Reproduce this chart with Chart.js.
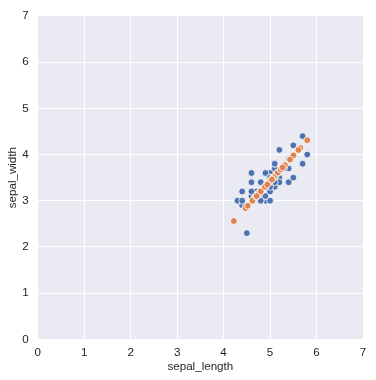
<!DOCTYPE html>
<html lang="en">
  <head>
    <meta charset="UTF-8" />
    <title>sepal scatter</title>
    <script src="https://cdn.jsdelivr.net/npm/chart.js@4.4.1/dist/chart.umd.min.js"></script>
    <style>
      html, body { margin: 0; padding: 0; background: #ffffff; }
      #wrap { width: 376px; height: 380px; }
    </style>
  </head>
  <body>
    <div id="wrap"><canvas id="myChart" width="376" height="380"></canvas></div>

    <script>
      // setosa measurements
      var sepalLength = [5.1, 4.9, 4.7, 4.6, 5.0, 5.4, 4.6, 5.0, 4.4, 4.9, 5.4, 4.8, 4.8, 4.3, 5.8, 5.7, 5.4, 5.1, 5.7, 5.1,
                         5.4, 5.1, 4.6, 5.1, 4.8, 5.0, 5.0, 5.2, 5.2, 4.7, 4.8, 5.4, 5.2, 5.5, 4.9, 5.0, 5.5, 4.9, 4.4, 5.1,
                         5.0, 4.5, 4.4, 5.0, 5.1, 4.8, 5.1, 4.6, 5.3, 5.0];
      var sepalWidth = [3.5, 3.0, 3.2, 3.1, 3.6, 3.9, 3.4, 3.4, 2.9, 3.1, 3.7, 3.4, 3.0, 3.0, 4.0, 4.4, 3.9, 3.5, 3.8, 3.8,
                        3.4, 3.7, 3.6, 3.3, 3.4, 3.0, 3.4, 3.5, 3.4, 3.2, 3.1, 3.4, 4.1, 4.2, 3.1, 3.2, 3.5, 3.6, 3.0, 3.4,
                        3.5, 2.3, 3.2, 3.5, 3.8, 3.0, 3.8, 3.2, 3.7, 3.3];

      // orange points (lying on one line)
      var fitLength = [5.08, 4.75, 4.75, 4.66, 5.09, 5.42, 4.81, 4.99, 4.47, 4.80, 5.32, 4.90, 4.70, 4.47, 5.65, 5.80, 5.42, 5.08, 5.50, 5.23,
                       5.17, 5.18, 4.91, 4.98, 4.90, 4.79, 4.99, 5.13, 5.08, 4.75, 4.75, 5.17, 5.43, 5.61, 4.80, 4.89, 5.26, 5.04, 4.52, 5.03,
                       5.04, 4.22, 4.62, 5.04, 5.23, 4.70, 5.23, 4.71, 5.27, 4.94];
      var fitWidth = [3.51, 3.14, 3.15, 3.05, 3.52, 3.88, 3.21, 3.41, 2.84, 3.20, 3.77, 3.31, 3.09, 2.84, 4.14, 4.31, 3.88, 3.51, 3.98, 3.68,
                      3.61, 3.62, 3.32, 3.40, 3.31, 3.19, 3.41, 3.56, 3.51, 3.15, 3.15, 3.61, 3.89, 4.10, 3.20, 3.30, 3.71, 3.47, 2.89, 3.46,
                      3.46, 2.56, 3.00, 3.46, 3.68, 3.09, 3.68, 3.10, 3.72, 3.35];

      var tickValues = [0, 1, 2, 3, 4, 5, 6, 7];

      function toPoints(xs, ys) {
        return xs.map(function (x, i) { return { x: x, y: ys[i] }; });
      }

      var plotBg = {
        id: "plotBg",
        beforeDraw: function (chart) {
          var a = chart.chartArea;
          var ctx = chart.ctx;
          ctx.save();
          ctx.fillStyle = "#eaeaf2";
          ctx.fillRect(a.left, a.top, a.right - a.left, a.bottom - a.top);
          ctx.restore();
        }
      };

      var tickFont = { family: "'Liberation Sans', Arial, sans-serif", size: 11.6 };

      new Chart(document.getElementById("myChart"), {
        type: "scatter",
        data: {
          datasets: [
            {
              // blue goes underneath
              order: 2,
              data: toPoints(sepalLength, sepalWidth),
              backgroundColor: "#4c72b0",
              borderColor: "#ffffff",
              borderWidth: 0.8,
              pointRadius: 3.4
            },
            {
              order: 1,
              data: toPoints(fitLength, fitWidth),
              backgroundColor: "#dd8452",
              borderColor: "#ffffff",
              borderWidth: 0.8,
              pointRadius: 3.4
            }
          ]
        },
        options: {
          responsive: false,
          animation: false,
          layout: { padding: { top: 14, right: 13, left: 0, bottom: 0 } },
          plugins: { legend: { display: false }, tooltip: { enabled: false } },
          scales: {
            x: {
              type: "linear",
              min: 0,
              max: 7,
              afterBuildTicks: function (s) { s.ticks = tickValues.map(function (v) { return { value: v }; }); },
              afterFit: function (s) { s.height = 40.7; },
              grid: { color: "#ffffff", lineWidth: 1, drawTicks: false },
              border: { display: false },
              ticks: { color: "#262626", font: tickFont, padding: 7 },
              title: { display: true, text: "sepal_length", color: "#262626", font: tickFont, padding: { top: 0, bottom: 6 } }
            },
            y: {
              type: "linear",
              min: 0,
              max: 7,
              afterBuildTicks: function (s) { s.ticks = tickValues.map(function (v) { return { value: v }; }); },
              afterFit: function (s) { s.width = 37.7; },
              grid: { color: "#ffffff", lineWidth: 1, drawTicks: false },
              border: { display: false },
              ticks: { color: "#262626", font: tickFont, padding: 9 },
              title: { display: true, text: "sepal_width", color: "#262626", font: tickFont, padding: { top: 6, bottom: 0 } }
            }
          }
        },
        plugins: [plotBg]
      });
    </script>
  </body>
</html>
